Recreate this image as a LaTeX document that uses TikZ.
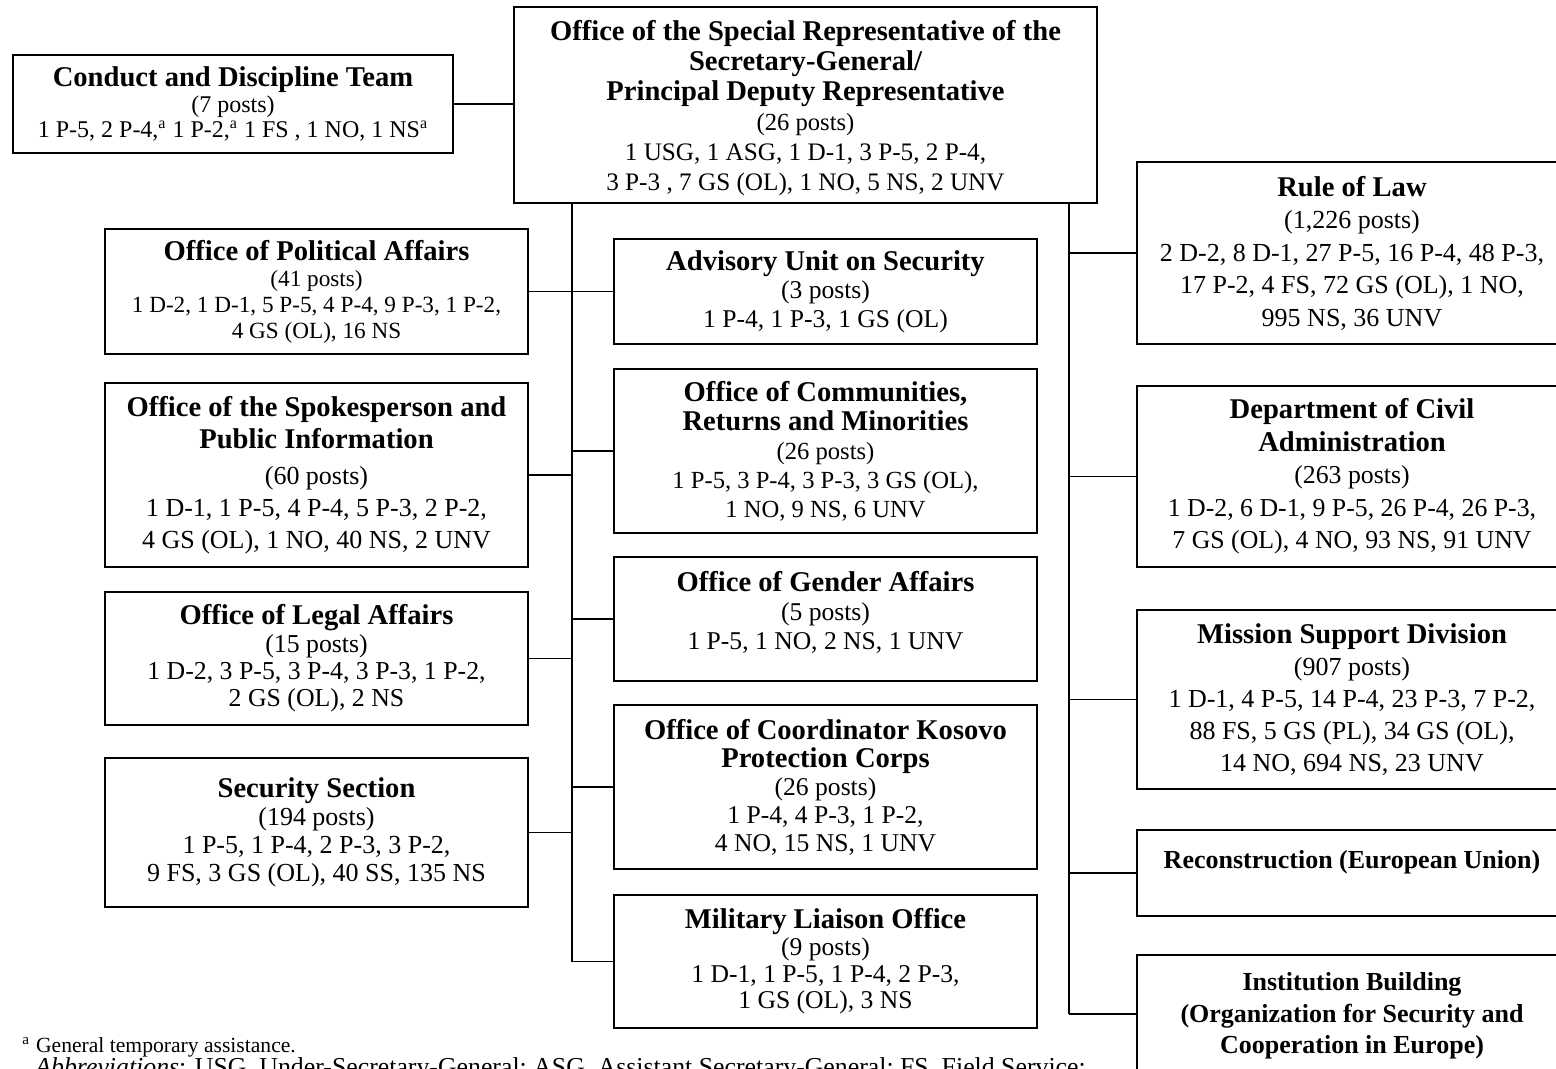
\documentclass[tikz,border=0pt]{standalone}
\usepackage{fontspec}
\setmainfont{Liberation Serif}
\usepackage{tikz}

\newcommand{\hd}[1]{{\fontsize{14.3}{16}\selectfont\bfseries #1}}
\newcommand{\hdsm}[1]{{\fontsize{13}{16}\selectfont\bfseries #1}}
\newcommand{\fs}[2]{\fontsize{#1}{#2}\selectfont}

\tikzset{
  unit/.style={draw, line width=1pt, align=center, inner sep=0pt},
  link/.style={line width=0.9pt},
  trunk/.style={line width=1.4pt},
  note/.style={anchor=base west, inner sep=0pt, font=\fs{10.8}{13}},
}

\begin{document}
\begin{tikzpicture}[x=0.5pt, y=-0.5pt]
  \useasboundingbox (0,0) rectangle (1556,1069);
  \clip (0,0) rectangle (1556,1069);

  % head office
  \node[unit, minimum width=291.5pt, minimum height=98pt, text depth=-2pt, font=\fs{12.6}{15}] (srsg) at (805.5,105)
    {\hd{Office of the Special Representative of the}\\ \hd{Secretary-General/}\\ \hd{Principal Deputy Representative}\\
     {\fs{12.3}{15}(26 posts)}\\ 1 USG, 1 ASG, 1 D-1, 3 P-5, 2 P-4,\\ 3 P-3 , 7 GS (OL), 1 NO, 5 NS, 2 UNV};
  \node[unit, minimum width=220pt, minimum height=49pt, font=\fs{12}{12.8}] (cdt) at (233,104)
    {\hd{Conduct and Discipline Team}\\ (7 posts)\\
     1 P-5, 2 P-4,\textsuperscript{a} 1 P-2,\textsuperscript{a} 1 FS , 1 NO, 1 NS\textsuperscript{a}};

  % left column
  \node[unit, minimum width=211.5pt, minimum height=62.5pt, font=\fs{11.6}{13}] (opa) at (316.5,291.5)
    {\hd{Office of Political Affairs}\\ (41 posts)\\ 1 D-2, 1 D-1, 5 P-5, 4 P-4, 9 P-3, 1 P-2,\\ 4 GS (OL), 16 NS};
  \node[unit, minimum width=211.5pt, minimum height=92pt, font=\fs{13}{16}] (osp) at (316.5,475)
    {\hd{Office of the Spokesperson and}\\ \hd{Public Information}\\[2pt] (60 posts)\\
     1 D-1, 1 P-5, 4 P-4, 5 P-3, 2 P-2,\\ 4 GS (OL), 1 NO, 40 NS, 2 UNV};
  \node[unit, minimum width=211.5pt, minimum height=66.5pt, font=\fs{12.9}{13.7}] (ola) at (316.5,658.5)
    {\hd{Office of Legal Affairs}\\ (15 posts)\\ 1 D-2, 3 P-5, 3 P-4, 3 P-3, 1 P-2,\\ 2 GS (OL), 2 NS};
  \node[unit, minimum width=211.5pt, minimum height=74.5pt, font=\fs{13}{14}] (sec) at (316.5,832.5)
    {\hd{Security Section}\\ (194 posts)\\ 1 P-5, 1 P-4, 2 P-3, 3 P-2,\\ 9 FS, 3 GS (OL), 40 SS, 135 NS};

  % middle column
  \node[unit, minimum width=211.5pt, minimum height=52.5pt, font=\fs{12.8}{14.3}] (aus) at (825.5,291.5)
    {\hd{Advisory Unit on Security}\\ (3 posts)\\ 1 P-4, 1 P-3, 1 GS (OL)};
  \node[unit, minimum width=211.5pt, minimum height=82pt, font=\fs{12.3}{14.5}] (ocr) at (825.5,451)
    {\hd{Office of Communities,}\\ \hd{Returns and Minorities}\\ (26 posts)\\
     1 P-5, 3 P-4, 3 P-3, 3 GS (OL),\\ 1 NO, 9 NS, 6 UNV};
  \node[unit, minimum width=211.5pt, minimum height=62pt, text depth=9pt, font=\fs{12.8}{14.5}] (oga) at (825.5,619)
    {\hd{Office of Gender Affairs}\\ (5 posts)\\ 1 P-5, 1 NO, 2 NS, 1 UNV};
  \node[unit, minimum width=211.5pt, minimum height=82pt, font=\fs{12.8}{14}] (kpc) at (825.5,787)
    {\hd{Office of Coordinator Kosovo}\\ \hd{Protection Corps}\\ (26 posts)\\
     1 P-4, 4 P-3, 1 P-2,\\ 4 NO, 15 NS, 1 UNV};
  \node[unit, minimum width=211.5pt, minimum height=66.5pt, font=\fs{12.8}{13.3}] (mlo) at (825.5,961.5)
    {\hd{Military Liaison Office}\\ (9 posts)\\ 1 D-1, 1 P-5, 1 P-4, 2 P-3,\\ 1 GS (OL), 3 NS};

  % right column
  \node[unit, minimum width=215pt, minimum height=91pt, font=\fs{13}{16.25}] (rol) at (1352,253)
    {\hd{Rule of Law}\\ (1,226 posts)\\ 2 D-2, 8 D-1, 27 P-5, 16 P-4, 48 P-3,\\
     17 P-2, 4 FS, 72 GS (OL), 1 NO,\\ 995 NS, 36 UNV};
  \node[unit, minimum width=215pt, minimum height=90.5pt, font=\fs{12.9}{16.25}] (dca) at (1352,476.5)
    {\hd{Department of Civil}\\ \hd{Administration}\\ (263 posts)\\
     1 D-2, 6 D-1, 9 P-5, 26 P-4, 26 P-3,\\ 7 GS (OL), 4 NO, 93 NS, 91 UNV};
  \node[unit, minimum width=215pt, minimum height=89.5pt, font=\fs{13}{16}] (msd) at (1352,699.5)
    {\hd{Mission Support Division}\\ (907 posts)\\ 1 D-1, 4 P-5, 14 P-4, 23 P-3, 7 P-2,\\
     88 FS, 5 GS (PL), 34 GS (OL),\\ 14 NO, 694 NS, 23 UNV};
  \node[unit, minimum width=215pt, minimum height=43pt, text depth=14pt] (rec) at (1352,873)
    {\hdsm{Reconstruction (European Union)}};
  \node[unit, minimum width=215pt, minimum height=59pt, text depth=1pt, font=\fs{13}{15.8}] (inb) at (1352,1014)
    {\hdsm{Institution Building}\\ \hdsm{(Organization for Security and}\\ \hdsm{Cooperation in Europe)}};

  % connectors
  \coordinate (lx) at (572,0);
  \coordinate (rx) at (1069,0);
  \draw[link] (cdt.east) -- (cdt.east -| srsg.west);
  \draw[trunk] (srsg.south -| lx) -- (mlo.west -| lx);
  \draw[trunk] (srsg.south -| rx) -- (inb.west -| rx);
  \foreach \b in {opa,osp,ola,sec}
    \draw[link] (\b.east) -- (\b.east -| lx);
  \foreach \b in {aus,ocr,oga,kpc,mlo}
    \draw[link] (\b.west) -- (\b.west -| lx);
  \foreach \b in {rol,dca,msd,rec,inb}
    \draw[link] (\b.west) -- (\b.west -| rx);

  % notes
  \node[note] (fna) at (22,1052) {\textsuperscript{a}\hspace{3pt}General temporary assistance.};
  \node[note, font=\fs{12.9}{15}] (abbr) at (35,1075.5) {\textit{Abbreviations}: USG, Under-Secretary-General; ASG, Assistant Secretary-General; FS, Field Service;};
\end{tikzpicture}
\end{document}
